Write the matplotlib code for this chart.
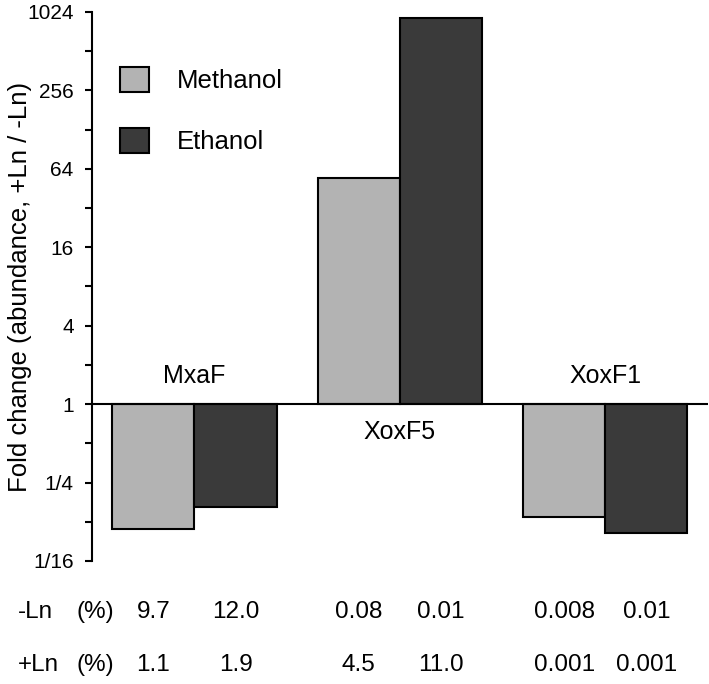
import matplotlib
matplotlib.use('Agg')
import matplotlib.pyplot as plt
import numpy as np

plt.rcParams['font.family'] = ['Liberation Sans', 'DejaVu Sans']

# data
groups = ['MxaF', 'XoxF5', 'XoxF1']
methanol = [0.110, 54.5, 0.137]
ethanol = [0.162, 915, 0.102]
minus_ln = ['9.7', '12.0', '0.08', '0.01', '0.008', '0.01']
plus_ln = ['1.1', '1.9', '4.5', '11.0', '0.001', '0.001']
ytick_vals = [1/16, 1/4, 1, 4, 16, 64, 256, 1024]
ytick_labels = ['1/16', '1/4', '1', '4', '16', '64', '256', '1024']

c_meth = '#b3b3b3'
c_eth = '#3a3a3a'

W, H = 709, 684
fig = plt.figure(figsize=(W / 100, H / 100), dpi=100)
ax_l, ax_r, ax_t, ax_b = 91.7, 708, 11.9, 561
ax = fig.add_axes([ax_l / W, 1 - ax_b / H, (ax_r - ax_l) / W, (ax_b - ax_t) / H])

x = np.arange(len(groups))
w = 0.4
m = np.array(methanol)
e = np.array(ethanol)
ax.bar(x - w / 2, m - 1, bottom=1, width=w, color=c_meth, edgecolor='black',
       linewidth=1.5, label='Methanol', zorder=2)
ax.bar(x + w / 2, e - 1, bottom=1, width=w, color=c_eth, edgecolor='black',
       linewidth=1.5, label='Ethanol', zorder=2)

ax.set_yscale('log', base=2)
ax.set_ylim(1/16, 1024)
ax.set_xlim(-0.5, 2.5)
ax.axhline(1, color='black', lw=1.5, zorder=3)

ax.set_yticks(ytick_vals)
ax.set_yticklabels(ytick_labels)
ax.set_yticks([2.0 ** k for k in range(-3, 10, 2)], minor=True)
ax.yaxis.set_minor_formatter(matplotlib.ticker.NullFormatter())
ax.tick_params(axis='y', which='both', direction='out', length=5, width=1.5,
               labelsize=15, pad=8)
ax.set_xticks([])
for s in ['top', 'right', 'bottom']:
    ax.spines[s].set_visible(False)
ax.spines['left'].set_linewidth(1.5)

ax.set_ylabel('Fold change (abundance, +Ln / -Ln)', fontsize=18.5)
ax.yaxis.set_label_coords(-(ax_l - 32) / (ax_r - ax_l), 0.5)

# group names
for i, g in enumerate(groups):
    off = -20 if g == 'XoxF5' else 20
    ax.annotate(g, (i, 1), xytext=(0, off), textcoords='offset points',
                ha='center', va='center', fontsize=18)

ax.legend(loc='upper left', bbox_to_anchor=((120 - ax_l) / (ax_r - ax_l), (ax_b - 67) / (ax_b - ax_t)),
          frameon=False, fontsize=18.5, handleheight=1.12, handlelength=1.12,
          handletextpad=1.1, labelspacing=1.35, borderpad=0, borderaxespad=0)

# table below the chart
bar_x = []
for i in x:
    bar_x += [i - w / 2, i + w / 2]
trans = matplotlib.transforms.blended_transform_factory(ax.transData, fig.transFigure)
for lab, vals, yp in [('-Ln', minus_ln, 612), ('+Ln', plus_ln, 665)]:
    yf = 1 - yp / H
    fig.text(18 / W, yf, lab, fontsize=17.5, ha='left', va='center')
    fig.text(77 / W, yf, '(%)', fontsize=17.5, ha='left', va='center')
    for bx, v in zip(bar_x, vals):
        ax.text(bx, yf, v, fontsize=17.5, ha='center', va='center', transform=trans)

fig.savefig('out.png', dpi=100)
